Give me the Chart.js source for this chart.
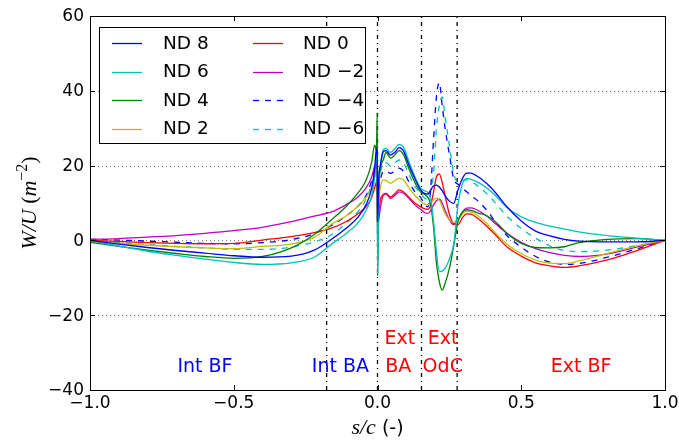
<!DOCTYPE html>
<html>
<head>
<meta charset="utf-8">
<script src="https://cdn.jsdelivr.net/npm/chart.js@4.4.0/dist/chart.umd.min.js"></script>
<style>
  html, body { margin: 0; padding: 0; background: #fff; }
</style>
</head>
<body>
<canvas id="chart" width="679" height="441"></canvas>
<script>
// s/c positions shared by every series
const sPos = [
  -1, -0.9, -0.8, -0.7, -0.6, -0.5, -0.4, -0.3, -0.22,
  -0.16, -0.11, -0.07, -0.04, -0.02, -0.01, -0.004, -0.001,
  0.0005, 0.004, 0.01, 0.02, 0.03, 0.045, 0.06, 0.075, 0.09,
  0.11, 0.13, 0.15, 0.165, 0.175, 0.185, 0.195, 0.205, 0.215, 0.225, 0.235, 0.25, 0.265,
  0.28, 0.295, 0.31, 0.325, 0.35, 0.38, 0.41, 0.45,
  0.5, 0.55, 0.6, 0.65, 0.7, 0.8, 0.9, 1.0
];

const nd8 = [
  0, -1.0, -1.9, -2.7, -3.4, -4.1, -4.5, -4.2, -2.6,
  0.3, 3.2, 6.0, 9.5, 14, 19, 24.5, 22,
  5, 16, 20, 23.7, 24, 22.8, 23.5, 24.8, 24,
  20, 16.5, 13.5, 12.5, 12.4, 13.5, 14.6, 14.8, 14.3, 13.3, 12, 10.5, 9.9,
  13.5, 16.5, 18, 18, 17, 15.2, 12.8, 9,
  5.2, 2.5, 1.2, 0.3, -0.2, -0.4, -0.4, 0
];
const nd6 = [
  0, -1.5, -2.9, -4.0, -5.0, -5.9, -6.4, -6.0, -4.5,
  -1.0, 1.8, 4.5, 8, 12, 17, 22, 23,
  -9, 14, 20, 24.2, 24.6, 23.5, 24.5, 25.7, 25,
  21, 17, 14, 13.2, 12.8, 11, 5, -3, -8.3, -8.2, -7.5, -5, -1,
  9.5, 15, 16.6, 16.3, 15.5, 14, 12, 8.8,
  6.3, 4.8, 3.8, 3.0, 2.3, 1.3, 0.6, 0
];
const nd4 = [
  -0.5, -1.6, -2.6, -3.5, -4.3, -4.8, -4.3, -2.0, 1.6,
  5.5, 9, 12.5, 16, 21, 25.5, 24, 34,
  -9.5, 12, 19, 21.5, 23.5, 22, 22.8, 24, 23,
  19, 15.5, 13, 12.2, 11.5, 9.5, 3.5, -6, -11, -13.3, -11.5, -7.5, -1.5,
  5, 7.5, 8.2, 8.0, 7.3, 6.6, 5.0, 1.9,
  -0.8, -1.9, -2.0, -1.7, -0.6, 0.3, 0.5, 0
];
const nd2 = [
  -0.3, -0.8, -1.3, -1.7, -2.0, -2.2, -1.6, -1.0, 0.8,
  4.3, 6.5, 9, 11.5, 14, 17, 19, 15,
  3, 10, 14, 16.2, 16.0, 15.3, 16, 16.6, 16.2,
  14, 12, 10.5, 9.7, 9.5, 10, 10.8, 11.3, 10.8, 9, 7.2, 5.5, 4.8,
  5.5, 7, 7.8, 7.6, 6.5, 4.5, 2, -1.0,
  -3.5, -5.3, -6.1, -6.2, -5.5, -3.5, -1.5, 0
];
const nd0 = [
  0, -0.3, -0.6, -0.8, -0.9, -0.8, 0.1, 1.0, 2.1,
  3.3, 5, 7, 9, 11.5, 14, 15.5, 12,
  3, 7, 10.8, 12.3, 12.6, 11.6, 12.5, 13.5, 13,
  11.5, 10, 9, 8.4, 8.3, 9.5, 13, 17, 17.8, 15.5, 12, 7, 4.5,
  4.2, 6, 7.1, 7.0, 5.8, 3.8, 1.5, -1.7,
  -4.2, -6.0, -6.8, -7.2, -6.8, -5.2, -2.8, 0
];
const ndM2 = [
  0.3, 0.5, 0.9, 1.3, 1.9, 2.6, 3.5, 5.0, 6.5,
  7.6, 9.5, 11.5, 14, 17, 20, 21, 14,
  1, 5, 8.6, 12, 12.4, 11.2, 12, 13, 12.6,
  11.2, 9.5, 8.3, 7.4, 7.2, 8, 9.5, 10.6, 11, 10, 8, 5.5, 4.2,
  5.5, 7.5, 8.6, 8.7, 8, 6.5, 4.5, 1.9,
  -0.5, -2.2, -3.3, -4.0, -4.3, -3.6, -1.8, 0
];
const ndM4 = [
  0.3, 0.1, -0.2, -0.5, -0.8, -0.9, -0.6, 0.2, 1.8,
  4, 6.5, 9, 12, 16, 19, 21.5, 18,
  2, 12, 16, 18.4, 18.5, 17.9, 18.6, 19.3, 18.5,
  15.5, 13, 11.5, 9.5, 9.0, 14, 27, 38.5, 42.2, 36, 30, 23, 16.5,
  15, 14, 13, 12, 10.5, 8.1, 5, 1.3,
  -1.8, -4.3, -5.8, -6.4, -6.2, -4.5, -2.3, 0
];
const ndM6 = [
  0, -0.6, -1.1, -1.6, -2.0, -2.4, -2.4, -1.8, -0.4,
  1.5, 4.5, 7.5, 11, 15, 18, 21, 19,
  0, 14, 18, 20.7, 20.8, 19.9, 20.8, 21.5, 20.8,
  17.5, 14.5, 12.5, 11.2, 11, 13, 18, 30, 36, 38.4, 33, 25.5, 18,
  15.5, 16, 16.2, 15.7, 14.5, 12.5, 10, 6.5,
  3.2, 0.6, -1.5, -2.7, -3.0, -2.6, -1.4, 0
];

const seriesLabels = ["ND 8", "ND 6", "ND 4", "ND 2", "ND 0", "ND -2", "ND -4", "ND -6"];
const seriesValues = [nd8, nd6, nd4, nd2, nd0, ndM2, ndM4, ndM6];
const seriesColors = ["#0000ff", "#00bfbf", "#008000", "#bfbf00", "#ff0000", "#bf00bf", "#0000ff", "#00bfbf"];
const seriesDashed = [false, false, false, false, false, false, true, true];

// region boundaries (dash-dot lines)
const boundaries = [-0.177, 0, 0.153, 0.277];
// region labels: [text, s, W/U, colour]
const regionLabels = [
  ["Int BF", -0.6, -34, "#0000ff"],
  ["Int BA", -0.129, -34, "#0000ff"],
  ["Ext", 0.078, -26.3, "#ff0000"],
  ["BA", 0.072, -34, "#ff0000"],
  ["Ext", 0.228, -26.3, "#ff0000"],
  ["OdC", 0.227, -34, "#ff0000"],
  ["Ext BF", 0.708, -34, "#ff0000"]
];

const xTicks = [-1, -0.5, 0, 0.5, 1];
const yTicks = [-40, -20, 0, 20, 40, 60];

const SANS = "'DejaVu Sans', sans-serif";
const SERIF = "'Liberation Serif', 'DejaVu Serif', serif";
const minus = (t) => t.replace("-", "\u2212");

const datasets = seriesValues.map((vals, i) => ({
  label: seriesLabels[i],
  data: vals.map((v, k) => ({ x: sPos[k], y: v })),
  borderColor: seriesColors[i],
  borderWidth: 1.3,
  borderDash: seriesDashed[i] ? [6, 6] : [],
  pointRadius: 0,
  fill: false,
  cubicInterpolationMode: "monotone",
}));

boundaries.forEach((b) => {
  datasets.push({
    label: "",
    data: [{ x: b, y: -40 }, { x: b, y: 60 }],
    borderColor: "#000",
    borderWidth: 1.3,
    borderDash: [4, 4, 1, 4],
    pointRadius: 0,
    fill: false,
  });
});

const overlay = {
  id: "overlay",
  beforeDatasetsDraw(chart) {
    const { ctx, chartArea: a, scales } = chart;
    ctx.save();
    ctx.strokeStyle = "#7a7a7a";
    ctx.lineWidth = 1;
    ctx.setLineDash([1, 3]);
    yTicks.forEach((t) => {
      if (t <= -40 || t >= 60) return;
      const y = Math.round(scales.y.getPixelForValue(t)) + 0.5;
      ctx.beginPath();
      ctx.moveTo(a.left, y);
      ctx.lineTo(a.right, y);
      ctx.stroke();
    });
    ctx.restore();
  },
  afterDatasetsDraw(chart) {
    const { ctx, chartArea: a, scales } = chart;
    ctx.save();
    // frame
    ctx.strokeStyle = "#000";
    ctx.lineWidth = 1;
    ctx.setLineDash([]);
    ctx.strokeRect(Math.round(a.left) + 0.5, Math.round(a.top) + 0.5,
      Math.round(a.right - a.left), Math.round(a.bottom - a.top));
    // inward ticks
    ctx.beginPath();
    xTicks.forEach((t) => {
      const x = Math.round(scales.x.getPixelForValue(t)) + 0.5;
      ctx.moveTo(x, a.bottom); ctx.lineTo(x, a.bottom - 5);
      ctx.moveTo(x, a.top); ctx.lineTo(x, a.top + 5);
    });
    yTicks.forEach((t) => {
      const y = Math.round(scales.y.getPixelForValue(t)) + 0.5;
      ctx.moveTo(a.left, y); ctx.lineTo(a.left + 5, y);
      ctx.moveTo(a.right, y); ctx.lineTo(a.right - 5, y);
    });
    ctx.stroke();

    // tick labels
    ctx.fillStyle = "#000";
    ctx.font = "17px " + SANS;
    ctx.textAlign = "right";
    ctx.textBaseline = "middle";
    yTicks.forEach((t) => {
      ctx.fillText(minus(String(t)), a.left - 6, scales.y.getPixelForValue(t) + 1);
    });
    ctx.textAlign = "center";
    ctx.textBaseline = "top";
    xTicks.forEach((t) => {
      ctx.fillText(minus(t.toFixed(1)), scales.x.getPixelForValue(t), a.bottom + 5);
    });

    // region labels
    ctx.font = "19px " + SANS;
    ctx.textAlign = "center";
    ctx.textBaseline = "middle";
    regionLabels.forEach(([txt, s, v, col]) => {
      ctx.fillStyle = col;
      ctx.fillText(txt, scales.x.getPixelForValue(s), scales.y.getPixelForValue(v));
    });

    // legend box
    const lx = 99, ly = 27, lw = 266, lh = 116;
    ctx.fillStyle = "#fff";
    ctx.fillRect(lx, ly, lw, lh);
    ctx.strokeStyle = "#000";
    ctx.lineWidth = 1;
    ctx.strokeRect(lx + 0.5, ly + 0.5, lw, lh);
    ctx.font = "18.5px " + SANS;
    ctx.textAlign = "left";
    seriesLabels.forEach((lab, i) => {
      const col = i < 4 ? 0 : 1;
      const row = i % 4;
      const hx = col === 0 ? 112 : 253;
      const tx = col === 0 ? 163 : 303;
      const y = 43 + row * 28.5;
      ctx.strokeStyle = seriesColors[i];
      ctx.lineWidth = 1.3;
      ctx.setLineDash(seriesDashed[i] ? [6, 6] : []);
      ctx.beginPath();
      ctx.moveTo(hx, Math.round(y) + 0.5);
      ctx.lineTo(hx + 30, Math.round(y) + 0.5);
      ctx.stroke();
      ctx.fillStyle = "#000";
      ctx.fillText(minus(lab), tx, y + 1);
    });
    ctx.restore();
  },
  afterDraw(chart) {
    const { ctx, chartArea: a } = chart;
    ctx.save();
    ctx.fillStyle = "#000";
    ctx.textBaseline = "alphabetic";
    // y title: W/U (m^-2)
    const parts = [
      ["W/U", "italic 22px " + SERIF, 0],
      [" (", "22px " + SERIF, 0],
      ["m", "italic 22px " + SERIF, 0],
      ["\u22122", "16px " + SERIF, -9],
      [")", "22px " + SERIF, 0]
    ];
    let total = 0;
    parts.forEach((p) => { ctx.font = p[1]; total += ctx.measureText(p[0]).width; });
    ctx.translate(36, (a.top + a.bottom) / 2);
    ctx.rotate(-Math.PI / 2);
    let px = -total / 2;
    parts.forEach((p) => {
      ctx.font = p[1];
      ctx.fillText(p[0], px, p[2]);
      px += ctx.measureText(p[0]).width;
    });
    ctx.setTransform(1, 0, 0, 1, 0, 0);
    // x title: s/c (-)
    ctx.font = "italic 22px " + SERIF;
    const w1 = ctx.measureText("s/c").width;
    ctx.font = "19px " + SANS;
    const w2 = ctx.measureText(" (-)").width;
    let x0 = (a.left + a.right) / 2 - (w1 + w2) / 2;
    ctx.font = "italic 22px " + SERIF;
    ctx.fillText("s/c", x0, 434);
    ctx.font = "19px " + SANS;
    ctx.fillText(" (-)", x0 + w1, 434);
    ctx.restore();
  }
};

new Chart(document.getElementById("chart"), {
  type: "line",
  data: { datasets },
  options: {
    responsive: false,
    animation: false,
    events: [],
    layout: { padding: { top: 16, right: 14, left: 0, bottom: 0 } },
    plugins: { legend: { display: false }, tooltip: { enabled: false } },
    scales: {
      x: {
        type: "linear",
        min: -1,
        max: 1,
        grid: { display: false, drawTicks: false },
        border: { display: false },
        ticks: { display: false },
        afterFit: (s) => { s.height = 51; },
      },
      y: {
        type: "linear",
        min: -40,
        max: 60,
        grid: { display: false, drawTicks: false },
        border: { display: false },
        ticks: { display: false },
        afterFit: (s) => { s.width = 90; },
      },
    },
  },
  plugins: [overlay],
});
</script>
</body>
</html>
